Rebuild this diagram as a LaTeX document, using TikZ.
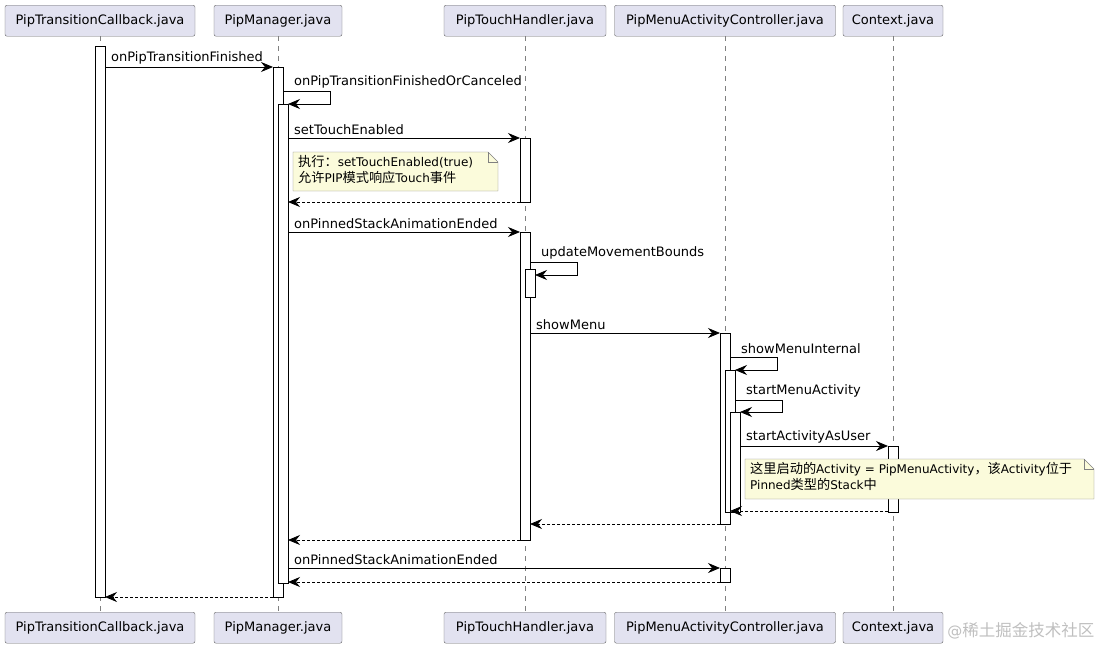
\documentclass[tikz,border=0pt]{standalone}
\usepackage{fontspec}
\setmainfont{DejaVu Sans}
\newfontfamily\cjk[Scale=1.1]{Noto Sans CJK SC}
\usetikzlibrary{arrows.meta}
\definecolor{partfill}{HTML}{E2E2F0}
\definecolor{notefill}{HTML}{FBFBDB}
\begin{document}
\begin{tikzpicture}[x=1pt,y=-1pt,font=\fontsize{13}{15}\selectfont,
 part/.style={draw=black!60,fill=partfill,rounded corners=2pt,minimum height=31,inner xsep=4pt,anchor=north},
 life/.style={draw=black!50,dashed,dash pattern=on 5pt off 5pt,line width=0.6pt},
 act/.style={draw=black,fill=white,line width=0.8pt},
 msg/.style={draw=black,line width=0.8pt,-{Stealth[length=12pt,width=10pt,inset=4pt]}},
 ret/.style={msg,dash pattern=on 3pt off 2pt},
 lbl/.style={anchor=south west,inner sep=1pt},
 notetext/.style={anchor=north west,align=left,inner sep=0pt,font=\fontsize{12}{16}\selectfont},
 note/.style={draw=black!50,fill=notefill}]
\useasboundingbox (0,0) rectangle (1100,648);
\foreach \x/\n/\w/\t in {100/a/190/PipTransitionCallback.java,278/b/128/PipManager.java,525/c/162/PipTouchHandler.java,725/d/221/PipMenuActivityController.java,893/e/100/Context.java}{
 \draw[life] (\x,36) -- (\x,612);
 \node[part,minimum width=\w] (\n top) at (\x,5) {\t};
 \node[part,minimum width=\w] (\n bot) at (\x,612) {\t};
}
% activations
\draw[act] (95,46) rectangle (105,597);
\draw[act] (273,67) rectangle (283,597);
\draw[act] (278,104) rectangle (288,583);
\draw[act] (520,138) rectangle (530,202);
\draw[act] (520,232) rectangle (530,540);
\draw[act] (525,269) rectangle (535,297);
\draw[act] (720,333) rectangle (730,524);
\draw[act] (725,370) rectangle (735,512);
\draw[act] (730,412) rectangle (740,512);
\draw[act] (720,568) rectangle (730,582);
\draw[act] (888,446) rectangle (898,512);
% messages
\draw[msg] (105,67) -- (273,67);
\node[lbl] at (110,65) {onPipTransitionFinished};
\draw[msg] (283,91) -- (330,91) -- (330,104) -- (288,104);
\node[lbl] at (293,89) {onPipTransitionFinishedOrCanceled};
\draw[msg] (288,138) -- (520,138);
\node[lbl] at (293,136) {setTouchEnabled};
\draw[note] (293,152) -- (488,152) -- (498,162) -- (498,191) -- (293,191) -- cycle;
\draw[draw=black!50] (488,152) -- (488,162) -- (498,162);
\node[notetext] at (298,155) {{\cjk 执行：}setTouchEnabled(true)\\{\cjk 允许}PIP{\cjk 模式响应}Touch{\cjk 事件}};
\draw[ret] (520,202) -- (288,202);
\draw[msg] (288,232) -- (520,232);
\node[lbl] at (293,230) {onPinnedStackAnimationEnded};
\draw[msg] (530,262) -- (577,262) -- (577,275) -- (535,275);
\node[lbl] at (540,260) {updateMovementBounds};
\draw[msg] (530,333) -- (720,333);
\node[lbl] at (535,331) {showMenu};
\draw[msg] (730,357) -- (777,357) -- (777,370) -- (735,370);
\node[lbl] at (740,355) {showMenuInternal};
\draw[msg] (735,400) -- (782,400) -- (782,412) -- (740,412);
\node[lbl] at (745,398) {startMenuActivity};
\draw[msg] (740,446) -- (888,446);
\node[lbl] at (745,444) {startActivityAsUser};
\draw[note] (745,459) -- (1084,459) -- (1094,469) -- (1094,499) -- (745,499) -- cycle;
\draw[draw=black!50] (1084,459) -- (1084,469) -- (1094,469);
\node[notetext] at (750,462) {{\cjk 这里启动的}Activity = PipMenuActivity{\cjk ，该}Activity{\cjk 位于}\\Pinned{\cjk 类型的}Stack{\cjk 中}};
\draw[ret] (888,511) -- (730,511);
\draw[ret] (720,524) -- (530,524);
\draw[ret] (520,540) -- (288,540);
\draw[msg] (288,568) -- (720,568);
\node[lbl] at (293,566) {onPinnedStackAnimationEnded};
\draw[ret] (720,582) -- (288,582);
\draw[ret] (273,597) -- (105,597);
\node[anchor=east,text=black!25,font=\fontsize{15}{18}\selectfont] at (1098,631) {@{\cjk 稀土掘金技术社区}};
\end{tikzpicture}
\end{document}
